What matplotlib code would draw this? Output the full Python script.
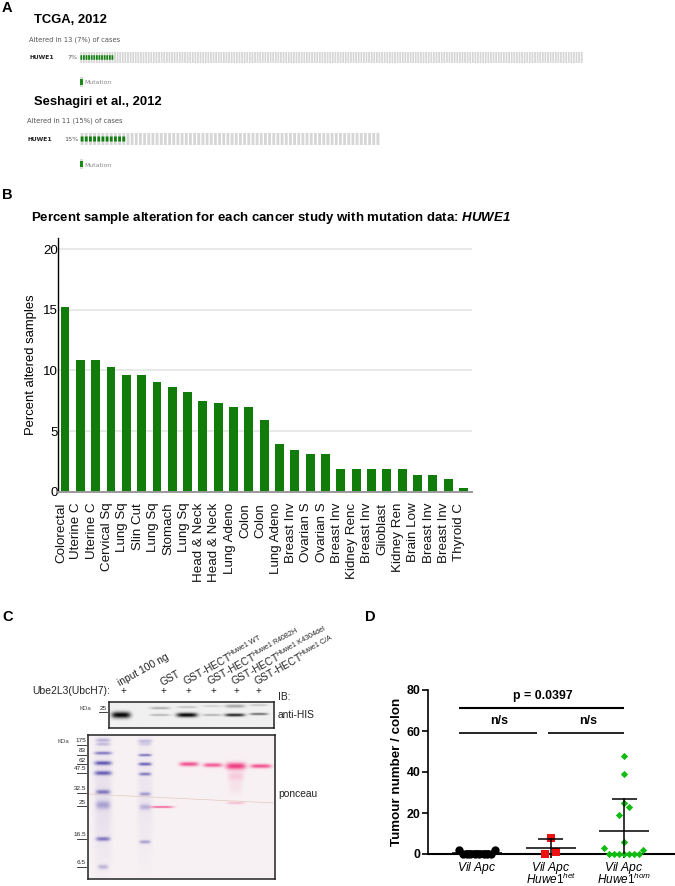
import numpy as np
import matplotlib
matplotlib.use("Agg")
import matplotlib.pyplot as plt

plt.rcParams['font.family'] = ['Liberation Sans', 'DejaVu Sans']
plt.rcParams['mathtext.fontset'] = 'custom'
plt.rcParams['mathtext.rm'] = 'Liberation Sans'
plt.rcParams['mathtext.it'] = 'Liberation Sans:italic'
plt.rcParams['mathtext.bf'] = 'Liberation Sans:bold'
plt.rcParams['mathtext.bfit'] = 'Liberation Sans:italic:bold'
plt.rcParams['mathtext.default'] = 'regular'

W, H = 675, 886

# ---------- data ----------
# Panel A
tcga_cases, tcga_altered = 194, 13
sesh_cases, sesh_altered = 72, 11

# Panel B
study_labels = ['Colorectal', 'Uterine C', 'Uterine C', 'Cervical Sq', 'Lung Sq', 'Slin Cut', 'Lung Sq',
                'Stomach', 'Lung Sq', 'Head & Neck', 'Head & Neck', 'Lung Adeno', 'Colon', 'Colon',
                'Lung Adeno', 'Breast Inv', 'Ovarian S', 'Ovarian S', 'Breast Inv', 'Kidney Renc',
                'Breast Inv', 'Glioblast', 'Kidney Ren', 'Brain Low', 'Breast Inv', 'Breast Inv', 'Thyroid C']
study_values = [15.2, 10.9, 10.9, 10.3, 9.6, 9.6, 9.05, 8.6, 8.25, 7.5, 7.3, 7.0, 7.0, 5.95,
                3.95, 3.45, 3.15, 3.1, 1.9, 1.9, 1.85, 1.85, 1.85, 1.4, 1.4, 1.05, 0.3]

# Panel C: each band = (lane centre, height on gel, half-width, half-height, strength)
his_bands = [(121, 715, 9.5, 3.2, 1.0), (160, 708, 10, 1.2, .30), (160, 715, 10, 1.0, .28),
             (187, 715, 10.5, 2.2, 1.0), (187, 707, 10, 1.0, .22), (212, 715, 9.5, 1.1, .28),
             (212, 706, 9.5, 1.0, .15), (235, 715, 10, 1.5, .88), (235, 706, 10, 1.6, .33),
             (259, 714, 9, 1.1, .6), (259, 705, 9, 1.0, .2)]
marker_bands = [(103, 800, 9, 62, .10), (145, 795, 8, 58, .07),
                (103, 740, 7, 1.8, .35), (103, 744, 7, 1.5, .3), (103, 753, 8.5, 1.5, .7),
                (103, 763, 8.5, 2.0, .9), (103, 773, 8.5, 2.1, .85), (103, 792, 7, 2.2, .7),
                (103, 805, 7, 4.0, .42), (103, 839, 7, 2.0, .7), (103, 867, 5, 2.3, .33),
                (145, 741, 7, 1.7, .3), (145, 744, 6, 1.5, .2), (145, 755, 6.5, 1.2, .75),
                (145, 764, 6.5, 1.5, .85), (145, 774, 6, 1.5, .7), (145, 794, 5.5, 1.7, .5),
                (145, 807, 5.5, 2.8, .33), (145, 842, 5.5, 1.7, .45)]
pink_bands = [(162, 807, 11.5, 0.9, .85), (189, 764, 9.5, 2.1, .85), (213, 765, 9.5, 2.0, .8),
              (236, 766, 10, 3.4, .95), (236, 776, 8, 5, .2), (236, 787, 7, 7, .08), (236, 803, 9, 1.3, .28),
              (261, 766, 10.5, 2.0, .85)]
mw_labels = ['175', '83', '62', '47.5', '32.5', '25', '16.5', '6.5']
mw_heights = [741, 751, 760, 769, 789, 802, 835, 863]
lane_plus = [123, 163, 188, 213, 236, 258]

# Panel D
group_names = [r'$\mathit{Vil\ Apc}$'] * 3
group_second = [r'$\mathit{Huwe1^{het}}$', r'$\mathit{Huwe1^{hom}}$']
vil_y = [2, 2, 0, 0, 0, 0, 0, 0, 0, 0]
vil_x = [-.245, .245, -.19, -.14, -.09, -.03, .03, .09, .14, .19]
het_y = [8, 1, 0]
het_x = [0, .07, -.07]
hom_y = [48, 39, 25, 23, 19, 6, 3, 2, 0, 0, 0, 0, 0, 0, 0]
hom_x = [0, 0, 0, .07, -.07, 0, -.27, .26, -.21, -.14, -.07, 0, .07, .14, .21]
group_mean = [0.5, 3, 11]
group_sd = [0.8, 4.3, 16]


def axpx(x0, y0, x1, y1, **kw):
    return fig.add_axes([x0 / W, 1 - y1 / H, (x1 - x0) / W, (y1 - y0) / H], **kw)


fig = plt.figure(figsize=(W / 100, H / 100), dpi=100, facecolor='white')

# overlay for free text, in pixel units
ov = fig.add_axes([0, 0, 1, 1], zorder=5)
ov.set_xlim(0, W); ov.set_ylim(H, 0); ov.axis('off')


def T(x, y, s, size, **kw):
    kw.setdefault('va', 'center')
    kw.setdefault('color', 'black')
    return ov.text(x, y, s, fontsize=size, **kw)


for s, x, y in [('A', 2, 8), ('B', 2, 195), ('C', 2, 617), ('D', 365, 617)]:
    T(x, y, s, 10.5, weight='bold')


# ---------- Panel A ----------
def onco(x0, y0, x1, y1, cases, altered):
    ax = axpx(x0, y0, x1, y1)
    ax.set_xlim(0, cases); ax.set_ylim(0, 1); ax.axis('off')
    idx = np.arange(cases) + .5
    for b in ax.bar(idx, np.ones(cases), width=.68, color='#d6d6d6', linewidth=0):
        b.set_snap(False)
    for b in ax.bar(idx[:altered], np.full(altered, .42), bottom=.29, width=.68, color='#12800f', linewidth=0):
        b.set_snap(False)


onco(80, 52, 583, 63, tcga_cases, tcga_altered)
onco(80, 133, 380, 145, sesh_cases, sesh_altered)
for yy in (77, 159):
    ax = axpx(80, yy, 83, yy + 10)
    ax.set_xlim(0, 1); ax.set_ylim(0, 1); ax.axis('off')
    ax.bar([.5], [1], width=1, color='#dcdcdc', linewidth=0)
    ax.bar([.5], [.5], bottom=.25, width=.7, color='#1a8a1a', linewidth=0)

T(34, 19.5, 'TCGA, 2012', 9.35, weight='bold')
T(34, 101.5, 'Seshagiri et al., 2012', 9.35, weight='bold')
sm = ['DejaVu Sans']
T(29, 39.5, 'Altered in 13 (7%) of cases', 4.85, family=sm, color='#555555')
T(27, 120.5, 'Altered in 11 (15%) of cases', 4.85, family=sm, color='#555555')
T(29, 57.5, 'HUWE1', 4.3, family=sm, weight='bold', color='#222222')
T(27, 139, 'HUWE1', 4.3, family=sm, weight='bold', color='#222222')
T(78, 57.5, '7%', 4.6, family=sm, ha='right', color='#555555')
T(78, 139, '15%', 4.6, family=sm, ha='right', color='#555555')
T(84, 82.5, 'Mutation', 4.4, family=sm, color='#888888')
T(84, 165, 'Mutation', 4.4, family=sm, color='#888888')

# ---------- Panel B ----------
T(31, 217.5, r'Percent sample alteration for each cancer study with mutation data: $\mathbfit{HUWE1}$',
  9.5, weight='bold')
axb = axpx(58, 238, 472, 491.7)
pos = np.arange(len(study_values))
axb.set_xlim(-.457, 26.56); axb.set_ylim(0, 20.93)
axb.set_yticks([0, 5, 10, 15, 20])
axb.yaxis.grid(True, color='#e2e2e2', lw=1.1)
axb.set_axisbelow(True)
axb.bar(pos, study_values, width=.58, color='#127c0a', linewidth=0, zorder=3)
for sp in ('top', 'right'):
    axb.spines[sp].set_visible(False)
axb.spines['left'].set_linewidth(1.0)
axb.spines['bottom'].set_color('#999999'); axb.spines['bottom'].set_linewidth(1.4)
axb.spines['bottom'].set_zorder(4)
axb.set_xticks(pos - 4 / 15.32)
axb.set_xticklabels(study_labels, rotation=90, fontsize=9.6, color='#111111')
axb.tick_params(axis='x', length=0, pad=8)
axb.tick_params(axis='y', length=0, pad=0, labelsize=9.6)
axb.set_ylabel('Percent altered samples', fontsize=9.4)
axb.yaxis.set_label_coords((37 - 58) / 414, .50)


# ---------- Panel C ----------
def gel(x0, y0, x1, y1, bg, groups):
    ax = axpx(x0, y0, x1, y1)
    xs = np.linspace(x0, x1, int((x1 - x0) * 3))
    ys = np.linspace(y0, y1, int((y1 - y0) * 3))
    X, Y = np.meshgrid(xs, ys)
    img = np.ones(X.shape + (3,)) * np.array(matplotlib.colors.to_rgb(bg))
    for bands, col in groups:
        col = np.array(matplotlib.colors.to_rgb(col))
        for cx, cy, hw, hh, st in bands:
            a = st * np.exp(-((X - cx) / hw) ** 4) * np.exp(-((Y - cy) / hh) ** 2)
            img = img * (1 - a[..., None]) + col * a[..., None]
    ax.imshow(img, extent=(x0, x1, y1, y0), aspect='auto', interpolation='bilinear')
    ax.set_xticks([]); ax.set_yticks([])
    for sp in ax.spines.values():
        sp.set_linewidth(1.1); sp.set_color('#222222')
    return ax


gel(109, 702, 274, 728, '#f1f1f1', [(his_bands, '#050505')])
axp = gel(88, 735, 275, 879, '#f8f2f4', [(marker_bands, '#4f44a8'), (pink_bands, '#f0347c')])
axp.plot([88, 275], [794, 803], color='#e3c9c0', lw=.5)
axp.set_xlim(88, 275); axp.set_ylim(879, 735)

T(32, 691, 'Ube2L3(UbcH7):', 7.5, color='#222222')
for x in lane_plus:
    T(x, 691, '+', 7, ha='center', color='#222222')
T(278, 697, 'IB:', 7.4, color='#222222')
T(278, 715, 'anti-HIS', 7.4, color='#222222')
T(278, 794, 'ponceau', 7.4, color='#222222')
T(80, 708.5, 'KDa', 4.3, color='#444444')
T(107, 708.5, '25', 4.6, ha='right', color='#222222')
ov.plot([99, 107], [712, 712], color='#222222', lw=.6)
T(57, 741.5, 'KDa', 4.3, color='#444444')
for lab, y in zip(mw_labels, mw_heights):
    T(86, y, lab, 4.6, ha='right', color='#222222')
    ov.plot([77, 86], [y + 3.5, y + 3.5], color='#222222', lw=.6)
rot = 29
for x, s in [(121, 'input 100 ng'), (163, 'GST')]:
    T(x, 688, s, 7.4, rotation=rot, rotation_mode='anchor', ha='left', va='bottom', color='#222222')
for x, s in [(187, r'GST-HECT$^{Huwe1\ WT}$'), (211, r'GST-HECT$^{Huwe1\ R4082H}$'),
             (235, r'GST-HECT$^{Huwe1\ K4304del}$'), (258, r'GST-HECT$^{Huwe1\ C/A}$')]:
    T(x, 688, s, 7.4, rotation=rot, rotation_mode='anchor', ha='left', va='bottom', color='#222222')

# ---------- Panel D ----------
axd = axpx(428, 690, 674, 854)
axd.patch.set_alpha(0)
axd.set_xlim(-.667, 2.68); axd.set_ylim(0, 80)
for i, (xo, yv, m, c, s) in enumerate([(vil_x, vil_y, 'o', 'black', 36),
                                        (het_x, het_y, 's', '#ee1111', 28),
                                        (hom_x, hom_y, 'D', '#11bb11', 14)]):
    axd.scatter(i + np.array(xo), yv, marker=m, color=c, s=s, clip_on=False, zorder=3, linewidth=0)
    mean, sd = group_mean[i], group_sd[i]
    up = mean + sd
    axd.plot([i - .34, i + .34], [mean, mean], color='black', lw=1.1, zorder=4, solid_capstyle='butt')
    axd.plot([i - .17, i + .17], [up, up], color='black', lw=1.1, zorder=4, solid_capstyle='butt')
    axd.plot([i, i], [0, up], color='black', lw=1.1, zorder=4)
axd.plot([-.25, 2.0], [71.2, 71.2], color='black', lw=1.5, solid_capstyle='butt')
axd.plot([-.25, .82], [59, 59], color='black', lw=1.2, solid_capstyle='butt')
axd.plot([.97, 2.0], [59, 59], color='black', lw=1.2, solid_capstyle='butt')
for sp in ('top', 'right'):
    axd.spines[sp].set_visible(False)
axd.spines['left'].set_linewidth(1.2); axd.spines['bottom'].set_linewidth(1.5)
axd.set_yticks([0, 20, 40, 60, 80])
axd.tick_params(axis='y', length=4, width=1.2, pad=1.5, labelsize=8.9)
for lab in axd.get_yticklabels():
    lab.set_fontweight('bold')
axd.set_xticks([0, 1, 2])
axd.set_xticklabels(group_names, fontsize=8.7)
axd.tick_params(axis='x', length=3, width=1.2, pad=1.5)
for i, s in enumerate(group_second):
    T(551 + i * 73, 884, s, 8.5, ha='center', va='baseline')
axd.set_ylabel('Tumour number / colon', fontsize=9.6, weight='bold')
axd.yaxis.set_label_coords((403 - 428) / 246, .5)
T(543, 695.5, 'p = 0.0397', 8.9, ha='center', weight='bold')
T(499, 721, 'n/s', 8.9, ha='center', weight='bold')
T(588, 721, 'n/s', 8.9, ha='center', weight='bold')

fig.savefig('out.png', dpi=100)
